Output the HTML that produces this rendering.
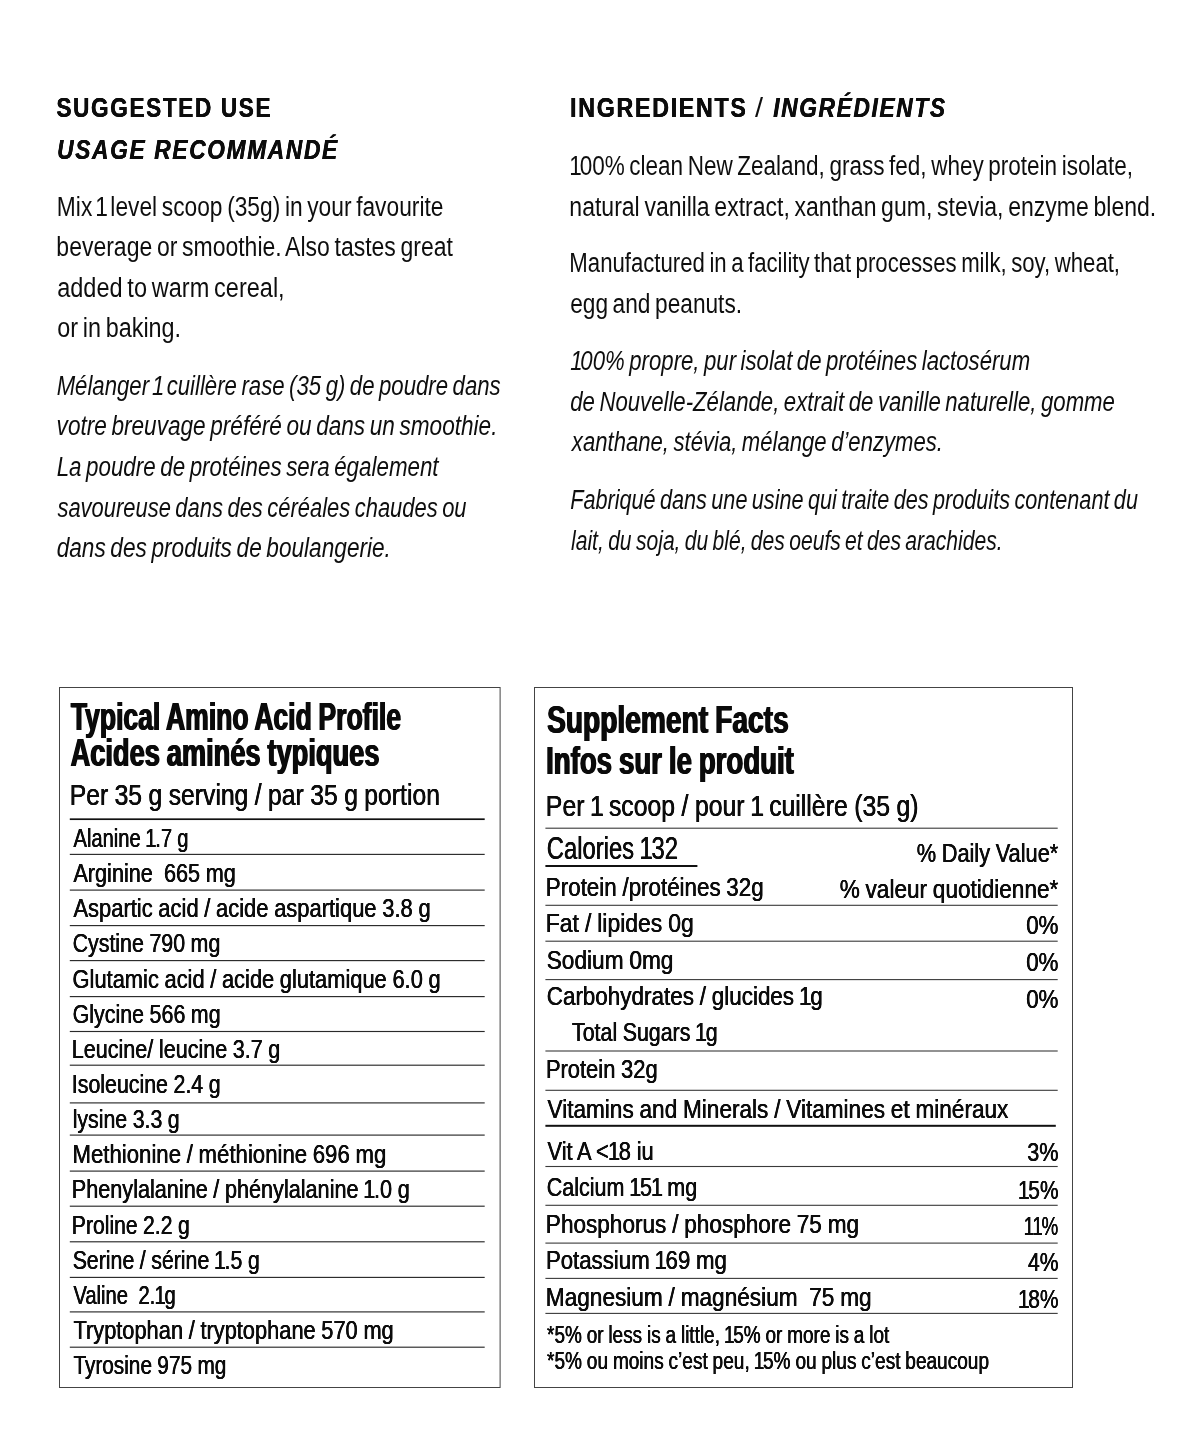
<!DOCTYPE html>
<html><head><meta charset="utf-8"><title>Supplement facts</title>
<style>
html,body{margin:0;padding:0;background:#fff}
body{width:1200px;height:1449px;position:relative;overflow:hidden;font-family:"Liberation Sans",sans-serif;color:#111}
span{position:absolute;left:0;top:0;white-space:pre;line-height:1;transform-origin:0 0;display:block}
.i{font-style:italic}
.k{font-weight:700}
.h{color:#0c0c0c;word-spacing:0px;text-shadow:0.25px 0 0 #0c0c0c,-0.25px 0 0 #0c0c0c}
.b{color:#0e0e0e;word-spacing:-2.0px}
.t{color:#0a0a0a;word-spacing:-1.0px;text-shadow:0.9px 0 0 #0a0a0a,-0.9px 0 0 #0a0a0a}
.r{color:#0c0c0c;word-spacing:-0.5px;text-shadow:0.3px 0 0 #0c0c0c,-0.3px 0 0 #0c0c0c}
#tx{position:absolute;left:0;top:0;width:1200px;height:1449px;will-change:transform}
.b b{font-weight:inherit;margin:0 -2.6px 0 -2.0px}
.r b{font-weight:inherit;margin:0 -1.6px 0 -1.0px}
svg{position:absolute;left:0;top:0}
</style></head><body>
<svg width="1200" height="1449" viewBox="0 0 1200 1449">
<rect x="59.5" y="687.5" width="440.6" height="700.0" fill="none" stroke="#444" stroke-width="1"/>
<rect x="534.5" y="687.5" width="538.0" height="700.0" fill="none" stroke="#444" stroke-width="1"/>
<rect x="69.8" y="818.35" width="414.9" height="1.7" fill="#111"/>
<rect x="69.8" y="853.82" width="414.9" height="1.15" fill="#2a2a2a"/>
<rect x="69.8" y="889.52" width="414.9" height="1.15" fill="#2a2a2a"/>
<rect x="69.8" y="925.02" width="414.9" height="1.15" fill="#2a2a2a"/>
<rect x="69.8" y="960.02" width="414.9" height="1.15" fill="#2a2a2a"/>
<rect x="69.8" y="996.02" width="414.9" height="1.15" fill="#2a2a2a"/>
<rect x="69.8" y="1030.92" width="414.9" height="1.15" fill="#2a2a2a"/>
<rect x="69.8" y="1064.62" width="414.9" height="1.15" fill="#2a2a2a"/>
<rect x="69.8" y="1102.33" width="414.9" height="1.15" fill="#2a2a2a"/>
<rect x="69.8" y="1134.52" width="414.9" height="1.15" fill="#2a2a2a"/>
<rect x="69.8" y="1170.52" width="414.9" height="1.15" fill="#2a2a2a"/>
<rect x="69.8" y="1205.62" width="414.9" height="1.15" fill="#2a2a2a"/>
<rect x="69.8" y="1241.22" width="414.9" height="1.15" fill="#2a2a2a"/>
<rect x="69.8" y="1276.83" width="414.9" height="1.15" fill="#2a2a2a"/>
<rect x="69.8" y="1311.33" width="414.9" height="1.15" fill="#2a2a2a"/>
<rect x="69.8" y="1346.62" width="414.9" height="1.15" fill="#2a2a2a"/>
<rect x="545.4" y="827.65" width="512.3" height="1.1" fill="#3a3a3a"/>
<rect x="545.4" y="865.00" width="152.0" height="2.0" fill="#111"/>
<rect x="545.4" y="904.75" width="512.3" height="1.1" fill="#3a3a3a"/>
<rect x="545.4" y="940.65" width="512.3" height="1.1" fill="#3a3a3a"/>
<rect x="545.4" y="979.05" width="512.3" height="1.1" fill="#3a3a3a"/>
<rect x="545.4" y="1050.45" width="512.3" height="1.1" fill="#3a3a3a"/>
<rect x="545.4" y="1089.75" width="512.3" height="1.1" fill="#3a3a3a"/>
<rect x="545.4" y="1124.80" width="510.4" height="2.0" fill="#111"/>
<rect x="545.4" y="1165.95" width="512.3" height="1.1" fill="#3a3a3a"/>
<rect x="545.4" y="1204.75" width="512.3" height="1.1" fill="#3a3a3a"/>
<rect x="545.4" y="1242.55" width="512.3" height="1.1" fill="#3a3a3a"/>
<rect x="545.4" y="1277.85" width="512.3" height="1.1" fill="#3a3a3a"/>
<rect x="545.4" y="1312.85" width="512.3" height="1.1" fill="#3a3a3a"/>
</svg>
<div id="tx">
<span class="h k" style="font-size:27.0px;transform:translate(56.42px,94.80px) scaleX(0.8345);letter-spacing:2.0px">SUGGESTED USE</span>
<span class="h i k" style="font-size:27.0px;transform:translate(57.16px,137.20px) scaleX(0.8408);letter-spacing:2.0px">USAGE RECOMMANDÉ</span>
<span class="b" style="font-size:27.0px;transform:translate(56.87px,194.00px) scaleX(0.8428)">Mix <b>1</b> level scoop (35g) in your favourite</span>
<span class="b" style="font-size:27.0px;transform:translate(56.35px,234.00px) scaleX(0.8514)">beverage or smoothie. Also tastes great</span>
<span class="b" style="font-size:27.0px;transform:translate(57.13px,274.60px) scaleX(0.8713)">added to warm cereal,</span>
<span class="b" style="font-size:27.0px;transform:translate(57.13px,314.60px) scaleX(0.8664)">or in baking.</span>
<span class="b i" style="font-size:27.0px;transform:translate(56.64px,373.00px) scaleX(0.8211)">Mélanger <b>1</b> cuillère rase (35 g) de poudre dans</span>
<span class="b i" style="font-size:27.0px;transform:translate(56.60px,413.40px) scaleX(0.8368)">votre breuvage préféré ou dans un smoothie.</span>
<span class="b i" style="font-size:27.0px;transform:translate(56.64px,454.00px) scaleX(0.8279)">La poudre de protéines sera également</span>
<span class="b i" style="font-size:27.0px;transform:translate(57.44px,494.60px) scaleX(0.8128)">savoureuse dans des céréales chaudes ou</span>
<span class="b i" style="font-size:27.0px;transform:translate(56.64px,535.40px) scaleX(0.8382)">dans des produits de boulangerie.</span>
<span class="h k" style="font-size:27.0px;transform:translate(570.12px,94.70px) scaleX(0.8593);letter-spacing:2.0px">INGREDIENTS</span>
<span class="b" style="font-size:27.0px;transform:translate(755.00px,94.70px) scaleX(1.0725)">/</span>
<span class="h i k" style="font-size:27.0px;transform:translate(773.22px,94.70px) scaleX(0.8400);letter-spacing:2.0px">INGRÉDIENTS</span>
<span class="b" style="font-size:27.0px;transform:translate(570.93px,152.50px) scaleX(0.8336)"><b>1</b>00% clean New Zealand, grass fed, whey protein isolate,</span>
<span class="b" style="font-size:27.0px;transform:translate(569.35px,193.50px) scaleX(0.8525)">natural vanilla extract, xanthan gum, stevia, enzyme blend.</span>
<span class="b" style="font-size:27.0px;transform:translate(569.36px,250.00px) scaleX(0.8209)">Manufactured in a facility that processes milk, soy, wheat,</span>
<span class="b" style="font-size:27.0px;transform:translate(570.16px,291.00px) scaleX(0.8398)">egg and peanuts.</span>
<span class="b i" style="font-size:27.0px;transform:translate(571.80px,348.00px) scaleX(0.8211)"><b>1</b>00% propre, pur isolat de protéines lactosérum</span>
<span class="b i" style="font-size:27.0px;transform:translate(570.20px,388.75px) scaleX(0.8211)">de Nouvelle-Zélande, extrait de vanille naturelle, gomme</span>
<span class="b i" style="font-size:27.0px;transform:translate(571.84px,429.25px) scaleX(0.8188)">xanthane, stévia, mélange d’enzymes.</span>
<span class="b i" style="font-size:27.0px;transform:translate(570.20px,486.75px) scaleX(0.8013)">Fabriqué dans une usine qui traite des produits contenant du</span>
<span class="b i" style="font-size:27.0px;transform:translate(571.00px,527.50px) scaleX(0.7815)">lait, du soja, du blé, des oeufs et des arachides.</span>
<span class="t k" style="font-size:38.0px;transform:translate(70.80px,698.00px) scaleX(0.6986)">Typical Amino Acid Profile</span>
<span class="t k" style="font-size:38.0px;transform:translate(70.56px,734.00px) scaleX(0.7168)">Acides aminés typiques</span>
<span class="r" style="font-size:29.0px;transform:translate(69.74px,781.40px) scaleX(0.8519)">Per 35 g serving / par 35 g portion</span>
<span class="r" style="font-size:26.5px;transform:translate(73.44px,825.10px) scaleX(0.7619)">Alanine <b>1</b>.7 g</span>
<span class="r" style="font-size:26.5px;transform:translate(73.44px,860.23px) scaleX(0.8161)">Arginine  665 mg</span>
<span class="r" style="font-size:26.5px;transform:translate(73.44px,895.36px) scaleX(0.8276)">Aspartic acid / acide aspartique 3.8 g</span>
<span class="r" style="font-size:26.5px;transform:translate(72.63px,930.49px) scaleX(0.8063)">Cystine 790 mg</span>
<span class="r" style="font-size:26.5px;transform:translate(72.62px,965.62px) scaleX(0.8246)">Glutamic acid / acide glutamique 6.0 g</span>
<span class="r" style="font-size:26.5px;transform:translate(72.63px,1000.75px) scaleX(0.8080)">Glycine 566 mg</span>
<span class="r" style="font-size:26.5px;transform:translate(71.81px,1035.88px) scaleX(0.8133)">Leucine/ leucine 3.7 g</span>
<span class="r" style="font-size:26.5px;transform:translate(71.83px,1071.01px) scaleX(0.8058)">Isoleucine 2.4 g</span>
<span class="r" style="font-size:26.5px;transform:translate(72.64px,1106.14px) scaleX(0.8048)">lysine 3.3 g</span>
<span class="r" style="font-size:26.5px;transform:translate(72.57px,1141.27px) scaleX(0.8363)">Methionine / méthionine 696 mg</span>
<span class="r" style="font-size:26.5px;transform:translate(71.81px,1176.40px) scaleX(0.8165)">Phenylalanine / phénylalanine <b>1</b>.0 g</span>
<span class="r" style="font-size:26.5px;transform:translate(71.84px,1211.53px) scaleX(0.7975)">Proline 2.2 g</span>
<span class="r" style="font-size:26.5px;transform:translate(72.64px,1246.66px) scaleX(0.8044)">Serine / sérine <b>1</b>.5 g</span>
<span class="r" style="font-size:26.5px;transform:translate(73.44px,1281.79px) scaleX(0.7607)">Valine  2.<b>1</b>g</span>
<span class="r" style="font-size:26.5px;transform:translate(73.44px,1316.92px) scaleX(0.8236)">Tryptophan / tryptophane 570 mg</span>
<span class="r" style="font-size:26.5px;transform:translate(73.44px,1352.05px) scaleX(0.7841)">Tyrosine 975 mg</span>
<span class="t k" style="font-size:38.0px;transform:translate(547.06px,700.50px) scaleX(0.7406)">Supplement Facts</span>
<span class="t k" style="font-size:38.0px;transform:translate(546.11px,742.00px) scaleX(0.7263)">Infos sur le produit</span>
<span class="r" style="font-size:29.0px;transform:translate(545.85px,792.00px) scaleX(0.8553)">Per <b>1</b> scoop / pour <b>1</b> cuillère (35 g)</span>
<span class="r" style="font-size:31.0px;transform:translate(546.79px,833.20px) scaleX(0.7673)">Calories <b>1</b>32</span>
<span class="r" style="font-size:26.5px;transform:translate(916.66px,839.90px) scaleX(0.8218)">% Daily Value*</span>
<span class="r" style="font-size:26.5px;transform:translate(545.87px,873.70px) scaleX(0.8431)">Protein /protéines 32g</span>
<span class="r" style="font-size:26.5px;transform:translate(839.66px,876.10px) scaleX(0.8512)">% valeur quotidienne*</span>
<span class="r" style="font-size:26.5px;transform:translate(545.83px,910.40px) scaleX(0.8652)">Fat / lipides 0g</span>
<span class="r" style="font-size:26.5px;transform:translate(1026.16px,912.30px) scaleX(0.8438)">0%</span>
<span class="r" style="font-size:26.5px;transform:translate(546.71px,946.80px) scaleX(0.8547)">Sodium 0mg</span>
<span class="r" style="font-size:26.5px;transform:translate(1026.16px,949.10px) scaleX(0.8438)">0%</span>
<span class="r" style="font-size:26.5px;transform:translate(546.71px,983.00px) scaleX(0.8467)">Carbohydrates / glucides <b>1</b>g</span>
<span class="r" style="font-size:26.5px;transform:translate(1026.16px,985.50px) scaleX(0.8438)">0%</span>
<span class="r" style="font-size:26.5px;transform:translate(572.00px,1019.00px) scaleX(0.8064)">Total Sugars <b>1</b>g</span>
<span class="r" style="font-size:26.5px;transform:translate(545.91px,1056.00px) scaleX(0.8272)">Protein 32g</span>
<span class="r" style="font-size:26.5px;transform:translate(547.56px,1095.50px) scaleX(0.8517)">Vitamins and Minerals / Vitamines et minéraux</span>
<span class="r" style="font-size:26.5px;transform:translate(547.56px,1137.80px) scaleX(0.8237)">Vit A &lt;<b>1</b>8 iu</span>
<span class="r" style="font-size:26.5px;transform:translate(1027.18px,1139.30px) scaleX(0.8166)">3%</span>
<span class="r" style="font-size:26.5px;transform:translate(546.75px,1173.80px) scaleX(0.8119)">Calcium <b>1</b>5<b>1</b> mg</span>
<span class="r" style="font-size:26.5px;transform:translate(1018.79px,1176.50px) scaleX(0.7862)"><b>1</b>5%</span>
<span class="r" style="font-size:26.5px;transform:translate(545.86px,1210.70px) scaleX(0.8517)">Phosphorus / phosphore 75 mg</span>
<span class="r" style="font-size:26.5px;transform:translate(1024.51px,1212.90px) scaleX(0.7038)"><b>1</b><b>1</b>%</span>
<span class="r" style="font-size:26.5px;transform:translate(545.88px,1246.90px) scaleX(0.8389)">Potassium <b>1</b>69 mg</span>
<span class="r" style="font-size:26.5px;transform:translate(1028.00px,1249.30px) scaleX(0.7950)">4%</span>
<span class="r" style="font-size:26.5px;transform:translate(545.85px,1283.70px) scaleX(0.8531)">Magnesium / magnésium  75 mg</span>
<span class="r" style="font-size:26.5px;transform:translate(1018.68px,1286.00px) scaleX(0.7883)"><b>1</b>8%</span>
<span class="r" style="font-size:23.0px;transform:translate(547.00px,1323.80px) scaleX(0.8247)">*5% or less is a little, <b>1</b>5% or more is a lot</span>
<span class="r" style="font-size:23.0px;transform:translate(547.00px,1349.60px) scaleX(0.8281)">*5% ou moins c’est peu, <b>1</b>5% ou plus c’est beaucoup</span>
</div>
</body></html>
